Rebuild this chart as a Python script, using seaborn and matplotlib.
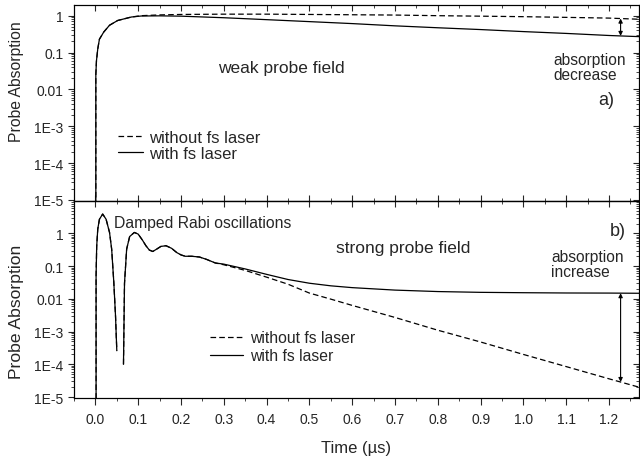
import numpy as np
import pandas as pd
import matplotlib
matplotlib.use("Agg")
import matplotlib.pyplot as plt
from matplotlib.lines import Line2D
from matplotlib.ticker import (MultipleLocator, LogLocator, FixedLocator,
                               FixedFormatter, NullFormatter, FormatStrFormatter)
import seaborn as sns

# ---- panel a): weak probe field ----
t_weak = [0.0, 0.001, 0.0025, 0.0055, 0.0094, 0.0195, 0.033, 0.052, 0.084, 0.107,
          0.15, 0.2, 0.3, 0.4, 0.5, 0.6, 0.7, 0.8, 0.9, 1.0, 1.1, 1.2, 1.27]
weak_without = [0.0, 0.025, 0.06, 0.125, 0.23, 0.36, 0.55, 0.74, 0.92, 1.0,
                1.05, 1.08, 1.1, 1.1, 1.08, 1.06, 1.04, 1.0, 0.97, 0.94, 0.9, 0.86, 0.8]
weak_with = [0.0, 0.025, 0.06, 0.125, 0.23, 0.36, 0.55, 0.74, 0.92, 0.98,
             0.99, 0.97, 0.88, 0.78, 0.69, 0.61, 0.53, 0.47, 0.42, 0.37, 0.33, 0.29, 0.27]

# ---- panel b): strong probe field ----
# common early part (damped Rabi oscillations); negative value = gain, not shown on log axis
t_rabi = [0.0, 0.0016, 0.003, 0.0055, 0.0094, 0.017, 0.025, 0.033, 0.038, 0.043,
          0.047, 0.050, 0.058, 0.0656, 0.068, 0.073, 0.08, 0.091, 0.1, 0.11,
          0.118, 0.126, 0.134, 0.143, 0.153, 0.165, 0.178, 0.19, 0.2, 0.21,
          0.225, 0.243, 0.26, 0.28]
rabi_values = [0.0, 0.05, 0.4, 1.35, 2.7, 3.9, 2.7, 1.07, 0.33, 0.032,
               0.003, 2.6e-4, -0.05, 1.0e-4, 0.03, 0.33, 0.8, 1.07, 0.95, 0.62,
               0.42, 0.31, 0.28, 0.33, 0.4, 0.42, 0.35, 0.26, 0.22, 0.2,
               0.2, 0.19, 0.16, 0.125]
t_tail = [0.3, 0.35, 0.4, 0.45, 0.5, 0.55, 0.6, 0.7, 0.8, 0.9, 1.0, 1.1, 1.2, 1.27]
strong_without_tail = [0.11, 0.074, 0.046, 0.028, 0.015, 0.0098, 0.0063, 0.0027,
                       0.0011, 4.8e-4, 2.0e-4, 8.5e-5, 3.6e-5, 2.0e-5]
strong_with_tail = [0.115, 0.082, 0.056, 0.039, 0.030, 0.025, 0.022, 0.0185,
                    0.0167, 0.0158, 0.0154, 0.0151, 0.015, 0.0148]

labels = ["without fs laser", "with fs laser"]
arrow_t = 1.227

ytick_vals = [1e-5, 1e-4, 1e-3, 1e-2, 1e-1, 1]
ytick_text = ["1E-5", "1E-4", "1E-3", "0.01", "0.1", "1"]


def series_frame(t, v, name):
    df = pd.DataFrame({"t": t, "v": v})
    df["seg"] = (df["v"] < 0).cumsum()
    df = df[df["v"] >= 0].copy()
    df["series"] = name
    return df


weak_df = pd.concat([series_frame(t_weak, weak_without, labels[0]),
                     series_frame(t_weak, weak_with, labels[1])], ignore_index=True)
strong_df = pd.concat([
    series_frame(t_rabi + t_tail, rabi_values + strong_without_tail, labels[0]),
    series_frame(t_rabi + t_tail, rabi_values + strong_with_tail, labels[1]),
], ignore_index=True)

sns.set_style("ticks")
plt.rcParams["font.family"] = ["Liberation Sans", "DejaVu Sans"]
plt.rcParams["axes.linewidth"] = 0.8
plt.rcParams["axes.edgecolor"] = "black"

fig = plt.figure(figsize=(6.4, 4.6), dpi=100)
left, width = 74 / 640, 565 / 640
ax_a = fig.add_axes([left, 1 - 202 / 460, width, 196 / 460])
ax_b = fig.add_axes([left, 1 - 399 / 460, width, 197 / 460])

dash_map = {labels[0]: (4.5, 2.5), labels[1]: ""}

for ax, df in ((ax_a, weak_df), (ax_b, strong_df)):
    sns.lineplot(data=df, x="t", y="v", style="series", style_order=labels,
                 units="seg", estimator=None, sort=False, dashes=dash_map,
                 color="black", linewidth=0.9, legend=False, ax=ax)

ylims = {ax_a: (10 ** -5.03, 10 ** 0.29), ax_b: (10 ** -5.03, 10 ** 0.99)}
for ax in (ax_a, ax_b):
    ax.set_yscale("log")
    ax.set_xlim(-0.05, 1.27)
    ax.set_ylim(*ylims[ax])
    ax.yaxis.set_major_locator(FixedLocator(ytick_vals))
    ax.yaxis.set_major_formatter(FixedFormatter(ytick_text))
    ax.yaxis.set_minor_locator(LogLocator(base=10, subs=np.arange(2, 10), numticks=20))
    ax.yaxis.set_minor_formatter(NullFormatter())
    ax.xaxis.set_major_locator(MultipleLocator(0.1))
    ax.xaxis.set_minor_locator(MultipleLocator(0.05))
    ax.xaxis.set_major_formatter(FormatStrFormatter("%.1f"))
    ax.tick_params(axis="y", which="major", direction="out", length=4.5, width=0.8,
                   labelsize=10, pad=3)
    ax.tick_params(axis="y", which="minor", direction="out", length=2.3, width=0.6)
    ax.set_xlabel("")
    for s in ax.spines.values():
        s.set_visible(True)

    # inward ticks on the right-hand frame
    ax_r = ax.twinx()
    ax_r.set_yscale("log")
    ax_r.set_ylim(*ylims[ax])
    ax_r.yaxis.set_major_locator(FixedLocator(ytick_vals))
    ax_r.yaxis.set_minor_locator(LogLocator(base=10, subs=np.arange(2, 10), numticks=20))
    ax_r.yaxis.set_minor_formatter(NullFormatter())
    ax_r.tick_params(axis="y", which="major", direction="in", length=4.5, width=0.8,
                     labelright=False)
    ax_r.tick_params(axis="y", which="minor", direction="in", length=2.3, width=0.6)

ax_a.set_ylabel("Probe Absorption", fontsize=11.3)
ax_b.set_ylabel("Probe Absorption", fontsize=12.6)

# x ticks: panel a inward on both edges, panel b outward at the bottom
ax_a.tick_params(axis="x", which="major", direction="in", top=True, bottom=True,
                 labelbottom=False, length=4, width=0.8)
ax_a.tick_params(axis="x", which="minor", direction="in", top=True, bottom=True,
                 length=2, width=0.6)
ax_b.tick_params(axis="x", which="major", direction="out", length=5, width=0.8,
                 labelsize=10, pad=5)
ax_b.tick_params(axis="x", which="minor", direction="out", length=2.5, width=0.6)
sec = ax_b.secondary_xaxis("top")
sec.xaxis.set_major_locator(MultipleLocator(0.1))
sec.xaxis.set_minor_locator(MultipleLocator(0.05))
sec.tick_params(axis="x", which="major", direction="in", length=4, width=0.8, labeltop=False)
sec.tick_params(axis="x", which="minor", direction="in", length=2, width=0.6)

ax_b.set_xlabel("Time (\u00b5s)", fontsize=12, labelpad=10)
ax_a.yaxis.set_label_coords(-0.088, 0.612)
ax_b.yaxis.set_label_coords(-0.088, 0.44)

# legends
def handles():
    return [Line2D([], [], color="black", lw=0.9, linestyle=(0, (4.5, 2.5))),
            Line2D([], [], color="black", lw=0.9)]

ax_a.legend(handles(), labels, loc="upper left", bbox_to_anchor=(0.078, 0.363),
            frameon=False, fontsize=12, borderpad=0, borderaxespad=0,
            handlelength=1.5, handletextpad=0.35, labelspacing=0.05)
ax_b.legend(handles(), labels, loc="upper left", bbox_to_anchor=(0.241, 0.344),
            frameon=False, fontsize=11.3, borderpad=0, borderaxespad=0,
            handlelength=2.1, handletextpad=0.45, labelspacing=0.19)

# annotations, panel a
ax_a.text(0.435, 0.039, "weak probe field", fontsize=12.5, ha="center", va="center")
ax_a.text(1.07, 0.103, "absorption\ndecrease", fontsize=11.2, ha="left", va="top",
          linespacing=1.0)
ax_a.text(1.193, 0.0052, "a)", fontsize=13, ha="center", va="center")
lw_without = 10 ** np.interp(arrow_t, t_weak, np.log10(np.clip(weak_without, 1e-12, None)))
lw_with = 10 ** np.interp(arrow_t, t_weak, np.log10(np.clip(weak_with, 1e-12, None)))
ax_a.annotate("", xy=(arrow_t, lw_with), xytext=(arrow_t, lw_without),
              arrowprops=dict(arrowstyle="<|-|>", color="black", lw=0.8,
                              mutation_scale=6, shrinkA=0, shrinkB=0))

# annotations, panel b
ax_b.text(0.0445, 2.2, "Damped Rabi oscillations", fontsize=11.3, ha="left", va="center")
ax_b.text(0.72, 0.38, "strong probe field", fontsize=12.5, ha="center", va="center")
ax_b.text(1.065, 0.33, "absorption\nincrease", fontsize=11.2, ha="left", va="top",
          linespacing=1.0)
ax_b.text(1.22, 1.25, "b)", fontsize=13, ha="center", va="center")
sw_without = 10 ** np.interp(arrow_t, t_tail, np.log10(strong_without_tail))
sw_with = 10 ** np.interp(arrow_t, t_tail, np.log10(strong_with_tail))
ax_b.annotate("", xy=(arrow_t, sw_with), xytext=(arrow_t, sw_without),
              arrowprops=dict(arrowstyle="<|-|>", color="black", lw=0.8,
                              mutation_scale=6, shrinkA=0, shrinkB=0))

fig.savefig("out.png", dpi=100)
